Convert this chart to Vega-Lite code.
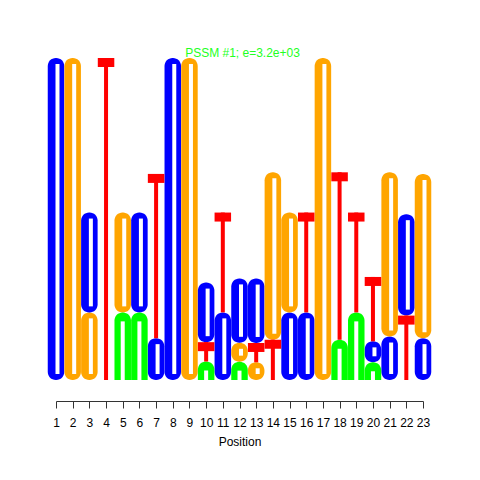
{
  "$schema": "https://vega.github.io/schema/vega-lite/v6.json",
  "width": 367,
  "height": 322,
  "autosize": "none",
  "padding": {"left": 56, "top": 58, "right": 57, "bottom": 100},
  "background": "white",
  "config": {"view": {"stroke": null}, "font": "Liberation Sans"},
  "title": {"text": "PSSM #1; e=3.2e+03", "color": "#22FF22", "fontSize": 12, "fontWeight": "normal", "font": "Liberation Sans", "anchor": "middle", "baseline": "alphabetic", "offset": 1, "dx": 3, "dy": 12},
  "data": {"values": [
    {"pos": 1, "base": "C", "bits": 2.0},
    {"pos": 2, "base": "G", "bits": 2.0},
    {"pos": 3, "base": "G", "bits": 0.42}, {"pos": 3, "base": "C", "bits": 0.62},
    {"pos": 4, "base": "T", "bits": 2.0},
    {"pos": 5, "base": "A", "bits": 0.42}, {"pos": 5, "base": "G", "bits": 0.62},
    {"pos": 6, "base": "A", "bits": 0.42}, {"pos": 6, "base": "C", "bits": 0.62},
    {"pos": 7, "base": "C", "bits": 0.26}, {"pos": 7, "base": "T", "bits": 1.02},
    {"pos": 8, "base": "C", "bits": 2.0},
    {"pos": 9, "base": "G", "bits": 2.0},
    {"pos": 10, "base": "A", "bits": 0.115}, {"pos": 10, "base": "T", "bits": 0.12}, {"pos": 10, "base": "C", "bits": 0.37},
    {"pos": 11, "base": "C", "bits": 0.42}, {"pos": 11, "base": "T", "bits": 0.62},
    {"pos": 12, "base": "A", "bits": 0.114}, {"pos": 12, "base": "G", "bits": 0.117}, {"pos": 12, "base": "C", "bits": 0.40},
    {"pos": 13, "base": "G", "bits": 0.11}, {"pos": 13, "base": "T", "bits": 0.12}, {"pos": 13, "base": "C", "bits": 0.40},
    {"pos": 14, "base": "T", "bits": 0.25}, {"pos": 14, "base": "G", "bits": 1.04},
    {"pos": 15, "base": "C", "bits": 0.42}, {"pos": 15, "base": "G", "bits": 0.62},
    {"pos": 16, "base": "C", "bits": 0.42}, {"pos": 16, "base": "T", "bits": 0.62},
    {"pos": 17, "base": "G", "bits": 2.0},
    {"pos": 18, "base": "A", "bits": 0.25}, {"pos": 18, "base": "T", "bits": 1.04},
    {"pos": 19, "base": "A", "bits": 0.42}, {"pos": 19, "base": "T", "bits": 0.62},
    {"pos": 20, "base": "A", "bits": 0.11}, {"pos": 20, "base": "C", "bits": 0.13}, {"pos": 20, "base": "T", "bits": 0.40},
    {"pos": 21, "base": "C", "bits": 0.27}, {"pos": 21, "base": "G", "bits": 1.02},
    {"pos": 22, "base": "T", "bits": 0.40}, {"pos": 22, "base": "C", "bits": 0.63},
    {"pos": 23, "base": "C", "bits": 0.26}, {"pos": 23, "base": "G", "bits": 1.02}
  ]},
  "transform": [
    {"stack": "bits", "groupby": ["pos"], "sort": [{"field": "bits", "order": "ascending"}], "as": ["y0", "y1"]}
  ],
  "encoding": {
    "x": {"field": "pos", "type": "quantitative", "title": "Position",
      "scale": {"domain": [1, 23], "nice": false, "zero": false, "padding": 0},
      "axis": {"values": [1,2,3,4,5,6,7,8,9,10,11,12,13,14,15,16,17,18,19,20,21,22,23], "offset": 21, "tickSize": 7, "labelPadding": 9, "labelFontSize": 12, "labelColor": "black", "labelFont": "Liberation Sans", "titleFont": "Liberation Sans", "titleFontSize": 12, "titleFontWeight": "normal", "titleColor": "black", "titlePadding": 8, "domainColor": "#333333", "tickColor": "#333333", "grid": false, "labelFlush": false, "labelOverlap": false}},
    "y": {"field": "y1", "type": "quantitative", "scale": {"domain": [0, 2], "nice": false}, "axis": null},
    "y2": {"field": "y0"}
  },
  "layer": [
    {"transform": [{"filter": {"field": "base", "oneOf": ["C", "G"]}}],
     "mark": {"type": "bar", "width": 16.5, "cornerRadius": 8},
     "encoding": {"color": {"field": "base", "type": "nominal", "legend": null, "scale": {"domain": ["A", "C", "G", "T"], "range": ["#00FF00", "#0000FF", "#FFA500", "#FF0000"]}}}},
    {"transform": [{"filter": {"field": "base", "equal": "A"}}],
     "mark": {"type": "bar", "width": 16.5, "cornerRadiusTopLeft": 8, "cornerRadiusTopRight": 8},
     "encoding": {"color": {"field": "base", "type": "nominal", "legend": null}}},
    {"transform": [{"filter": {"field": "base", "equal": "T"}}],
     "mark": {"type": "bar", "width": 4},
     "encoding": {"color": {"field": "base", "type": "nominal", "legend": null}}},
    {"transform": [{"filter": {"field": "base", "equal": "T"}}],
     "mark": {"type": "bar", "width": 16.5, "y2Offset": 9},
     "encoding": {"y2": {"field": "y1"}, "color": {"field": "base", "type": "nominal", "legend": null}}},
    {"transform": [{"filter": {"field": "base", "oneOf": ["C", "G"]}}],
     "mark": {"type": "bar", "width": 4, "color": "white", "yOffset": 6, "y2Offset": -6, "xOffset": 1.5}},
    {"transform": [{"filter": {"field": "base", "equal": "A"}}],
     "mark": {"type": "bar", "width": 4, "color": "white", "yOffset": 9}}
  ]
}
